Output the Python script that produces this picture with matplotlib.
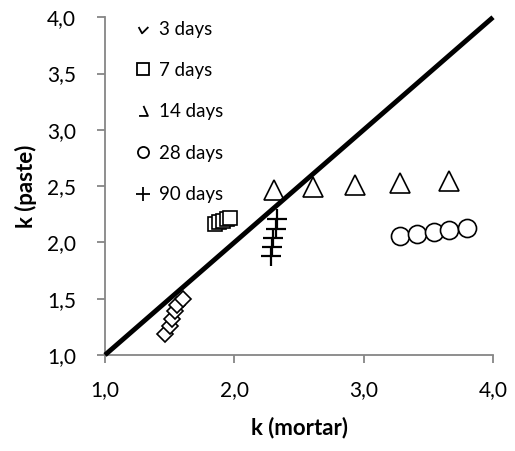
import matplotlib
matplotlib.use("Agg")
import matplotlib.pyplot as plt
from matplotlib.path import Path

plt.rcParams['font.family'] = ['Lato', 'DejaVu Sans']

# k values (mortar on x, paste on y)
d3_x = [1.46, 1.50, 1.52, 1.54, 1.56, 1.60]
d3_y = [1.19, 1.26, 1.32, 1.39, 1.44, 1.50]
d7_x = [1.85, 1.88, 1.91, 1.94, 1.97]
d7_y = [2.16, 2.18, 2.19, 2.21, 2.22]
d14_x = [2.31, 2.61, 2.93, 3.28, 3.66]
d14_y = [2.47, 2.49, 2.51, 2.53, 2.545]
d28_x = [3.28, 3.41, 3.54, 3.66, 3.80]
d28_y = [2.06, 2.075, 2.09, 2.11, 2.13]
d90_x = [2.33, 2.32, 2.30, 2.29, 2.28]
d90_y = [2.21, 2.12, 2.04, 1.96, 1.88]
labels = ['3 days', '7 days', '14 days', '28 days', '90 days']
ticks = [1.0, 1.5, 2.0, 2.5, 3.0, 3.5, 4.0]
xticks = [1.0, 2.0, 3.0, 4.0]

fig = plt.figure(figsize=(5.15, 4.51), dpi=100)
ax = fig.add_axes([0.2039, 0.2129, 0.7534, 0.7488])

kw = dict(linestyle='none', mfc='white', mec='black', mew=1.2, clip_on=False)
ax.plot(d3_x, d3_y, marker='D', ms=8.5, **kw)
ax.plot(d7_x, d7_y, marker='s', ms=10.5, **kw)
ax.plot(d14_x, d14_y, marker='^', ms=14, **kw)
ax.plot(d28_x, d28_y, marker='o', ms=13, **kw)
ax.plot(d90_x, d90_y, marker='+', ms=14, linestyle='none', color='black',
        mew=1.6, clip_on=False)

# 1:1 line
ax.plot([1, 4], [1, 4], color='black', linewidth=3.5, solid_capstyle='butt',
        clip_on=False, zorder=3)

# legend handles (the clipped look of the original legend)
half_diamond = Path([(-1, 0.3), (-0.3, -1), (1, 0.3)])
tri_part = Path([(0, 1), (0.8, -0.8), (-0.8, -0.8)])
hkw = dict(linestyle='none', mfc='white', mec='black', mew=1.3, color='black')
handles = [
    plt.Line2D([], [], marker=half_diamond, ms=7, fillstyle='none', **hkw),
    plt.Line2D([], [], marker='s', ms=8, **hkw),
    plt.Line2D([], [], marker=tri_part, ms=8, fillstyle='none', **hkw),
    plt.Line2D([], [], marker='o', ms=8, **hkw),
    plt.Line2D([], [], marker='+', ms=10, **hkw),
]
ax.legend(handles, labels, loc='upper left', bbox_to_anchor=(0.079, 0.99),
          frameon=False, fontsize=13.5, labelspacing=1.3, handlelength=0.8,
          handletextpad=0.45, borderpad=0, borderaxespad=0)

ax.set_xlim(1, 4)
ax.set_ylim(1, 4)
ax.set_xticks(xticks)
ax.set_yticks(ticks)
ax.set_xticklabels([f"{t:.1f}".replace('.', ',') for t in xticks])
ax.set_yticklabels([f"{t:.1f}".replace('.', ',') for t in ticks])
ax.tick_params(labelsize=15, color='#868686', length=6, width=1.3)
ax.tick_params(axis='x', pad=12)
ax.tick_params(axis='y', pad=15)

for s in ['top', 'right']:
    ax.spines[s].set_visible(False)
for s in ['left', 'bottom']:
    ax.spines[s].set_color('#868686')
    ax.spines[s].set_linewidth(1.3)

ax.set_xlabel('k (mortar)', fontsize=16, fontweight='bold', labelpad=12)
ax.set_ylabel('k (paste)', fontsize=16, fontweight='bold', labelpad=7)

fig.savefig('out.png', dpi=100)
